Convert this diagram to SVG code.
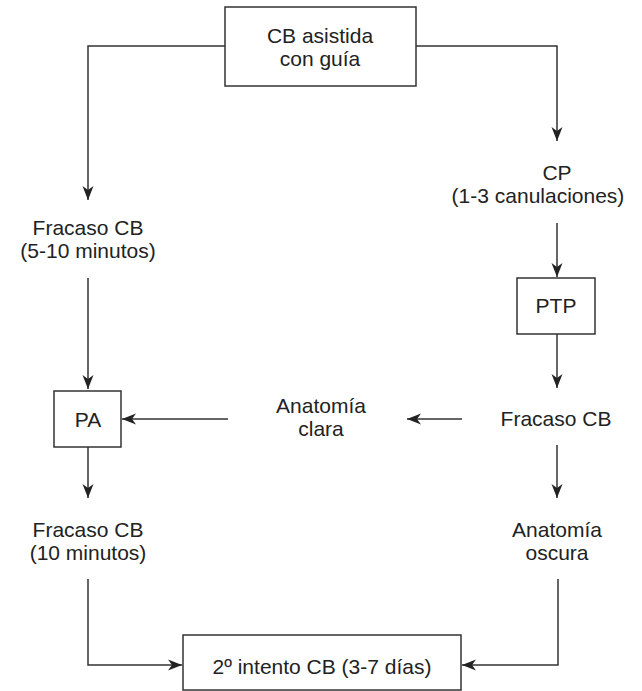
<svg xmlns="http://www.w3.org/2000/svg" width="642" height="691" viewBox="0 0 642 691">
<style>
text{font-family:"Liberation Sans",Arial,sans-serif;font-size:21px;fill:#222;text-anchor:middle}
.box{fill:#fff;stroke:#333;stroke-width:1.5}
.c{fill:none;stroke:#333;stroke-width:1.5}
</style>
<defs>
<marker id="ah" viewBox="-15 -6 16 12" refX="0" refY="0" markerWidth="16" markerHeight="12" markerUnits="userSpaceOnUse" orient="auto">
<path d="M0,0 L-14,-5.5 L-10,0 L-14,5.5 Z" fill="#222"/>
</marker>
</defs>
<g id="connectors">
<path class="c" d="M225,46 H88 V200" marker-end="url(#ah)"/>
<path class="c" d="M416,46 H557 V141" marker-end="url(#ah)"/>
<path class="c" d="M88,278 V389" marker-end="url(#ah)"/>
<path class="c" d="M557,223 V277" marker-end="url(#ah)"/>
<path class="c" d="M557,334 V388" marker-end="url(#ah)"/>
<path class="c" d="M462,419 H407" marker-end="url(#ah)"/>
<path class="c" d="M228,419 H122" marker-end="url(#ah)"/>
<path class="c" d="M88,447 V498" marker-end="url(#ah)"/>
<path class="c" d="M557,445 V498" marker-end="url(#ah)"/>
<path class="c" d="M88,579 V665 H182" marker-end="url(#ah)"/>
<path class="c" d="M558,579 V665 H462" marker-end="url(#ah)"/>
</g>
<g id="n-start">
<rect class="box" x="225" y="7" width="191" height="79"/>
<text x="320" y="43">CB asistida</text>
<text x="320" y="66">con guía</text>
</g>
<g id="n-cp">
<text x="557" y="180">CP</text>
<text x="538" y="203">(1-3 canulaciones)</text>
</g>
<g id="n-fracaso1">
<text x="88" y="235">Fracaso CB</text>
<text x="88" y="258">(5-10 minutos)</text>
</g>
<g id="n-ptp">
<rect class="box" x="517" y="278" width="78" height="56"/>
<text x="556" y="313">PTP</text>
</g>
<g id="n-pa">
<rect class="box" x="54" y="391" width="67" height="56"/>
<text x="88" y="427">PA</text>
</g>
<g id="n-clara">
<text x="321" y="413">Anatomía</text>
<text x="321" y="436">clara</text>
</g>
<g id="n-fracaso2">
<text x="556" y="426">Fracaso CB</text>
</g>
<g id="n-fracaso3">
<text x="88" y="537">Fracaso CB</text>
<text x="88" y="560">(10 minutos)</text>
</g>
<g id="n-oscura">
<text x="557" y="537">Anatomía</text>
<text x="557" y="560">oscura</text>
</g>
<g id="n-segundo">
<rect class="box" x="183" y="635" width="278" height="55"/>
<text x="322" y="674">2º intento CB (3-7 días)</text>
</g>
</svg>
